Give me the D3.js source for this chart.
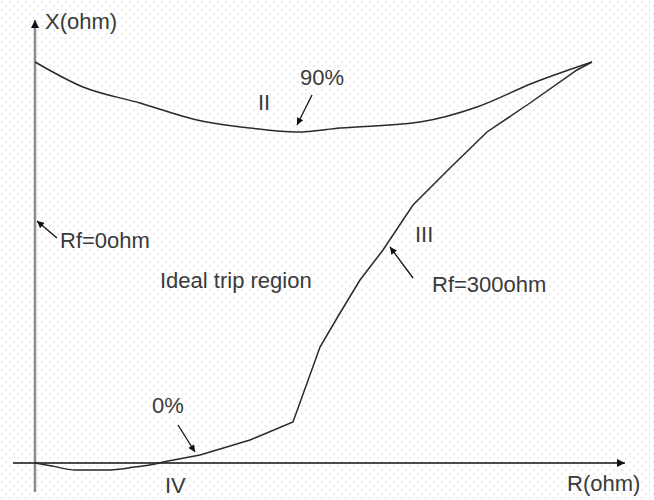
<!DOCTYPE html>
<html>
<head>
<meta charset="utf-8">
<script src="https://cdn.jsdelivr.net/npm/d3@7"></script>
<style>
  body { margin: 0; background: #fff; }
  svg { display: block; }
  text { font-family: Arial, "Liberation Sans", sans-serif; font-size: 22px; fill: #3a3a3a; }
</style>
</head>
<body>
<svg width="654" height="500"></svg>
<script>
// curve points, R and X in plot units (origin at the axes crossing)
var curveII = [[0, 401], [48, 376], [105, 360], [162, 343], [215, 335], [262, 331],
               [305, 335], [385, 341], [442, 356], [498, 380], [557, 401]];

var curveIV = [[0, 0], [17, -3], [40, -7], [72, -7], [100, -4], [120, -1], [128, 1]];

var curveIII = [[128, 1], [165, 8], [215, 23], [258, 41], [285, 116], [305, 150],
                [325, 183], [348, 213], [378, 258], [415, 295], [452, 331],
                [495, 360], [542, 393], [557, 401]];

// text labels [text, R, X]
var labels = [["X(ohm)", 10, 434], ["90%", 265, 378], ["II", 223, 353],
              ["Rf=0ohm", 25, 215], ["Ideal trip region", 125, 175],
              ["III", 380, 221], ["Rf=300ohm", 397, 171], ["0%", 117, 50],
              ["IV", 130, -30], ["R(ohm)", 532, -28]];

// pointer arrows [tailR, tailX, tipR, tipX]
var pointers = [[277, 368, 262, 338], [22, 225, 2, 242],
                [378, 185, 355, 216], [143, 38, 160, 11]];

var svg = d3.select("svg"),
    width = +svg.attr("width"),
    height = +svg.attr("height");

var x = d3.scaleLinear().domain([-22, 590]).range([13, 625]),
    y = d3.scaleLinear().domain([-29, 443]).range([492, 20]);

var defs = svg.append("defs");

// faint dotted paper background
var pat = defs.append("pattern")
    .attr("id", "dots")
    .attr("width", 8).attr("height", 8)
    .attr("patternUnits", "userSpaceOnUse");
pat.append("circle").attr("cx", 2).attr("cy", 2).attr("r", 0.8).attr("fill", "#d4d4d4");
pat.append("circle").attr("cx", 6).attr("cy", 6).attr("r", 0.8).attr("fill", "#d4d4d4");

svg.append("rect")
    .attr("width", width).attr("height", height)
    .attr("fill", "url(#dots)");

function arrowMarker(id, w, h) {
  defs.append("marker")
      .attr("id", id)
      .attr("viewBox", "0 -5 10 10")
      .attr("refX", 10).attr("refY", 0)
      .attr("markerUnits", "userSpaceOnUse")
      .attr("markerWidth", w).attr("markerHeight", h)
      .attr("orient", "auto")
    .append("path")
      .attr("d", "M0,-5L10,0L0,5Z")
      .attr("fill", "#111");
}
arrowMarker("axisHead", 12, 8);
arrowMarker("ptrHead", 12, 7);

// axes
svg.append("line")
    .attr("x1", x(0)).attr("y1", y(-29))
    .attr("x2", x(0)).attr("y2", y(443))
    .attr("stroke", "#8c8c8c")
    .attr("stroke-width", 2.5)
    .attr("marker-end", "url(#axisHead)");

svg.append("line")
    .attr("x1", x(-22)).attr("y1", y(0))
    .attr("x2", x(590)).attr("y2", y(0))
    .attr("stroke", "#111")
    .attr("stroke-width", 1.6)
    .attr("marker-end", "url(#axisHead)");

// curves
var smooth = d3.line()
    .x(function(d) { return x(d[0]); })
    .y(function(d) { return y(d[1]); })
    .curve(d3.curveMonotoneX);

var straight = d3.line()
    .x(function(d) { return x(d[0]); })
    .y(function(d) { return y(d[1]); });

var curves = svg.append("g")
    .attr("fill", "none")
    .attr("stroke", "#2a2a2a")
    .attr("stroke-width", 1.5);

curves.append("path").attr("d", smooth(curveII));
curves.append("path").attr("d", smooth(curveIV));
curves.append("path").attr("d", straight(curveIII));

// pointer arrows
svg.append("g").selectAll("line")
    .data(pointers)
    .enter().append("line")
    .attr("x1", function(d) { return x(d[0]); })
    .attr("y1", function(d) { return y(d[1]); })
    .attr("x2", function(d) { return x(d[2]); })
    .attr("y2", function(d) { return y(d[3]); })
    .attr("stroke", "#111")
    .attr("stroke-width", 1.3)
    .attr("marker-end", "url(#ptrHead)");

// labels
svg.append("g").selectAll("text")
    .data(labels)
    .enter().append("text")
    .attr("x", function(d) { return x(d[1]); })
    .attr("y", function(d) { return y(d[2]); })
    .text(function(d) { return d[0]; });
</script>
</body>
</html>
